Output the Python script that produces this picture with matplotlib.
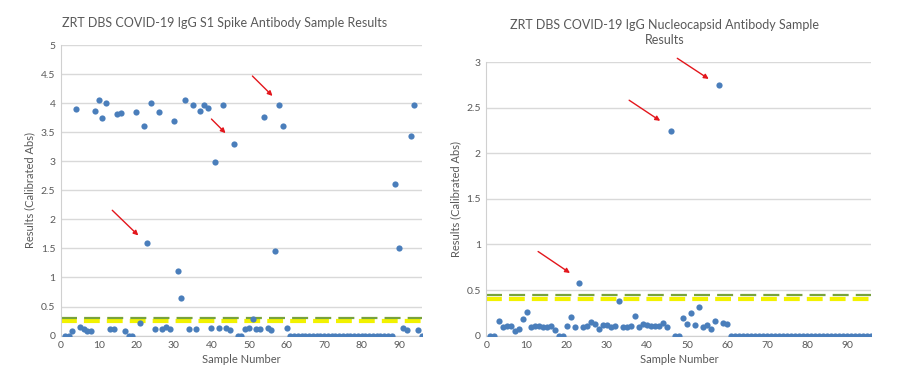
import matplotlib.pyplot as plt
import numpy as np
from matplotlib.ticker import FuncFormatter, MultipleLocator

plt.rcParams['font.family'] = ['Lato', 'DejaVu Sans']

# sample numbers 1..96
samples = np.arange(1, 97)

# S1 spike results (samples 1-96)
spike = [0, 0, 0.08, 3.90, 0.14, 0.11, 0.08, 0.08, 3.86, 4.05,
         3.74, 4.00, 0.11, 0.11, 3.81, 3.83, 0.08, 0, 0, 3.85,
         0.21, 3.60, 1.59, 4.00, 0.11, 3.85, 0.11, 0.15, 0.11, 3.69,
         1.12, 0.65, 4.05, 0.11, 3.97, 0.11, 3.87, 3.97, 3.92, 0.13,
         2.99, 0.13, 3.97, 0.13, 0.10, 3.29, 0, 0, 0.11, 0.13,
         0.28, 0.11, 0.11, 3.76, 0.13, 0.10, 1.45, 3.96, 3.60, 0.13] \
    + [0] * 28 + [2.61, 1.51, 0.13, 0.10, 3.43, 3.97, 0.10, 0]

# nucleocapsid results (samples 1-96)
nucleo = [0, 0, 0.16, 0.09, 0.11, 0.11, 0.05, 0.07, 0.18, 0.26,
          0.09, 0.11, 0.11, 0.09, 0.10, 0.11, 0.06, 0, 0, 0.11,
          0.20, 0.10, 0.58, 0.09, 0.11, 0.15, 0.13, 0.07, 0.12, 0.12,
          0.10, 0.11, 0.38, 0.09, 0.10, 0.11, 0.22, 0.10, 0.13, 0.12,
          0.11, 0.11, 0.11, 0.14, 0.10, 2.25, 0, 0, 0.19, 0.13,
          0.25, 0.12, 0.31, 0.09, 0.12, 0.07, 0.16, 2.75, 0.14, 0.13] \
    + [0] * 36

# cutoff lines
spike_cut = [0.30, 0.25]     # green, yellow
nucleo_cut = [0.45, 0.40]

# arrows: (tail x, tail y, head x, head y)
spike_arrows = [(13.1, 2.19, 21.1, 1.69),
                (39.5, 3.76, 44.3, 3.45),
                (50.4, 4.50, 56.8, 4.09)]
nucleo_arrows = [(12.3, 0.94, 21.4, 0.67),
                 (35.0, 2.60, 43.9, 2.34),
                 (47.0, 3.06, 56.0, 2.80)]

blue = '#4a7ebb'
green = '#77a33c'
yellow = '#f2f200'
grey_txt = '#595959'


def draw(ax, y, ymax, cuts, arrows, title, title_x, title_pad):
    ax.set_xlim(0, 96)
    ax.set_ylim(0, ymax)
    ax.yaxis.set_major_locator(MultipleLocator(0.5))
    ax.xaxis.set_major_locator(MultipleLocator(10))
    ax.yaxis.set_major_formatter(FuncFormatter(lambda v, p: '%g' % v))
    ax.grid(axis='y', color='#d9d9d9', lw=1)
    ax.set_axisbelow(True)
    for s in ['top', 'right']:
        ax.spines[s].set_visible(False)
    for s in ['left', 'bottom']:
        ax.spines[s].set_color('#d0d0d0')
    ax.tick_params(length=0, labelsize=7.5, colors=grey_txt, pad=4)
    ax.axhline(cuts[1], color=yellow, lw=3, dashes=(3.8, 1.7), zorder=2)
    ax.axhline(cuts[0], color=green, lw=1.6, dashes=(7.2, 3.2), zorder=2)
    ax.scatter(samples, y, s=20, color=blue, zorder=3, linewidths=0)
    for x0, y0, x1, y1 in arrows:
        ax.annotate('', xy=(x1, y1), xytext=(x0, y0),
                    arrowprops=dict(arrowstyle='-|>', color='#e3161c',
                                    lw=1, mutation_scale=7))
    ax.set_xlabel('Sample Number', fontsize=8, color=grey_txt, labelpad=3)
    ax.set_ylabel('Results (Calibrated Abs)', fontsize=8, color=grey_txt)
    ax.set_title(title, fontsize=9, color='#595959', x=title_x,
                 pad=title_pad, linespacing=1.35)


fig = plt.figure(figsize=(9.11, 3.88), dpi=100)
ax1 = fig.add_axes([0.067, 0.135, 0.396, 0.749])
ax2 = fig.add_axes([0.534, 0.135, 0.4226, 0.7046])

draw(ax1, spike, 5, spike_cut, spike_arrows,
     'ZRT DBS COVID-19 IgG S1 Spike Antibody Sample Results', 0.454, 13)
draw(ax2, nucleo, 3, nucleo_cut, nucleo_arrows,
     'ZRT DBS COVID-19 IgG Nucleocapsid Antibody Sample\nResults', 0.463, 13)

fig.savefig('out.png', dpi=100)
